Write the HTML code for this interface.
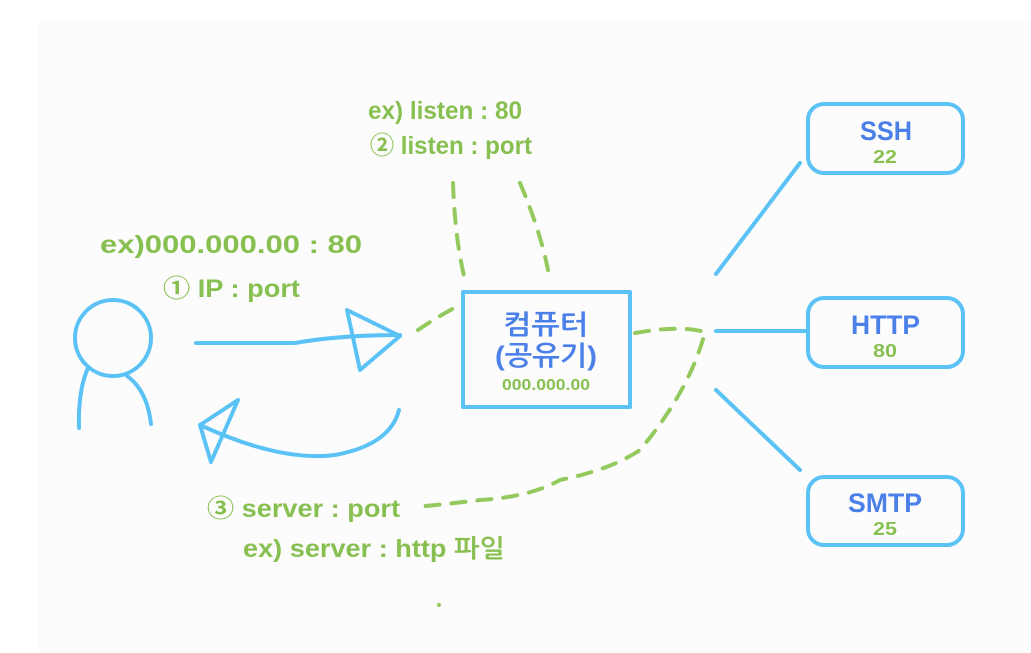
<!DOCTYPE html>
<html><head><meta charset="utf-8"><style>
html,body{margin:0;padding:0;background:#fff}
svg{display:block}
text{font-family:"Liberation Sans","NanumGothic","Noto Sans CJK KR",sans-serif;font-weight:bold}
</style></head><body>
<svg width="1031" height="653" viewBox="0 0 1031 653">
<rect x="38" y="20" width="993" height="633" fill="#fcfcfc"/>
<g fill="none" stroke="#5bc2f5" stroke-width="4" stroke-linecap="round" stroke-linejoin="round">
<circle cx="113" cy="338" r="38"/>
<path d="M88 368 Q78 390 79 428"/>
<path d="M127 376 Q147 390 151 424"/>
<path d="M196 343 L295 343 Q340 335 400 335"/>
<path d="M347 310 L400 336 L360 370 Z"/>
<path d="M399 410 Q390 445 335 455 Q280 462 200 425"/>
<path d="M238 400 L200 425 L211 462 Z"/>
<rect x="463" y="292" width="167" height="115"/>
<rect x="808" y="104" width="155" height="69" rx="16"/>
<rect x="808" y="298" width="155" height="69" rx="16"/>
<rect x="808" y="477" width="155" height="68" rx="16"/>
<path d="M716 274 L800 163"/>
<path d="M716 331 L806 331"/>
<path d="M716 390 L800 470"/>
</g>
<g fill="none" stroke="#93c95d" stroke-width="4" stroke-linecap="round" stroke-dasharray="14 12">
<path d="M453 183 Q455 240 465 280"/>
<path d="M520 183 Q540 230 548 270"/>
<path d="M418 330 Q440 315 460 305"/>
<path d="M635 333 Q680 325 705 332 Q690 390 640 450 Q610 470 560 480 Q530 497 480 500 Q440 505 414 507"/>
</g>
<circle cx="439" cy="605" r="2" fill="#93c95d"/>
<g fill="#87c050" font-size="25">
<text x="368" y="119" textLength="154" lengthAdjust="spacingAndGlyphs">ex) listen : 80</text>
<text x="370" y="154" textLength="162" lengthAdjust="spacingAndGlyphs">② listen : port</text>
<text x="100" y="253" textLength="262" lengthAdjust="spacingAndGlyphs">ex)000.000.00 : 80</text>
<text x="163" y="297" textLength="137" lengthAdjust="spacingAndGlyphs">① IP : port</text>
<text x="207" y="517" textLength="193" lengthAdjust="spacingAndGlyphs">③ server : port</text>
<text x="243" y="557" textLength="262" lengthAdjust="spacingAndGlyphs">ex) server : http 파일</text>
<text x="502" y="390" font-size="16" textLength="88" lengthAdjust="spacingAndGlyphs">000.000.00</text>
<text x="873" y="163" font-size="18" textLength="24" lengthAdjust="spacingAndGlyphs">22</text>
<text x="873" y="357" font-size="18" textLength="24" lengthAdjust="spacingAndGlyphs">80</text>
<text x="873" y="535" font-size="18" textLength="24" lengthAdjust="spacingAndGlyphs">25</text>
</g>
<g fill="#4a80e8" font-size="27">
<text x="503" y="334" textLength="85" lengthAdjust="spacingAndGlyphs">컴퓨터</text>
<text x="495" y="365" textLength="102" lengthAdjust="spacingAndGlyphs">(공유기)</text>
<text x="860" y="140" textLength="52" lengthAdjust="spacingAndGlyphs">SSH</text>
<text x="851" y="334" textLength="69" lengthAdjust="spacingAndGlyphs">HTTP</text>
<text x="848" y="512" textLength="74" lengthAdjust="spacingAndGlyphs">SMTP</text>
</g>
</svg>
</body></html>
